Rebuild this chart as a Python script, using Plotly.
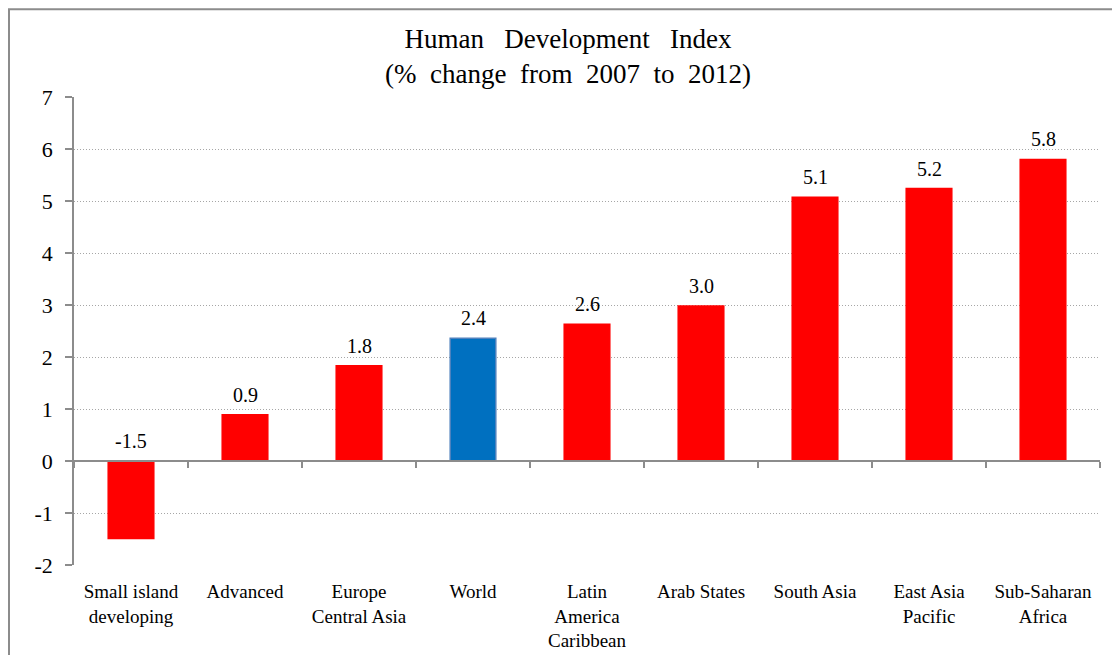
import plotly.graph_objects as go

categories = ["Small island<br>developing", "Advanced", "Europe<br>Central Asia", "World",
              "Latin<br>America<br>Caribbean", "Arab States", "South Asia", "East Asia<br>Pacific",
              "Sub-Saharan<br>Africa"]
values = [-1.49, 0.89, 1.83, 2.36, 2.63, 2.98, 5.07, 5.24, 5.80]
bar_colors = ["#FF0000", "#FF0000", "#FF0000", "#0070C0", "#FF0000", "#FF0000", "#FF0000", "#FF0000", "#FF0000"]
line_colors = ["#FF0000", "#FF0000", "#FF0000", "#4F81BD", "#FF0000", "#FF0000", "#FF0000", "#FF0000", "#FF0000"]
y_ticks = [-2, -1, 0, 1, 2, 3, 4, 5, 6, 7]
y_tick_text = ["-2", "-1", "0", "1", "2", "3", "4", "5", "6", "7"]

FONT = "Liberation Serif"
W, H = 1120, 655
OFF = 8  # browser body margin offset
ML, MR, MT, MB = 74 - OFF, 28, 97 - OFF, 96
y_min, y_max = -2, 7

fig = go.Figure()
fig.add_trace(go.Bar(
    x=categories, y=values,
    marker=dict(color=bar_colors, line=dict(color=line_colors, width=1.5)),
    width=0.4, showlegend=False, hoverinfo="skip",
))
label_y = [max(v, 0) for v in values]
fig.add_trace(go.Scatter(
    x=categories, y=label_y, xaxis="x2", mode="markers",
    marker=dict(opacity=0, size=1), showlegend=False, hoverinfo="skip",
))
for c, v, ly in zip(categories, values, label_y):
    fig.add_annotation(x=c, y=ly, xref="x", yref="y", text=f"{v:.1f}", showarrow=False,
                       yanchor="bottom", yshift=7,
                       font=dict(family=FONT, size=20, color="#000000"))

zero_pos = (0 - y_min) / (y_max - y_min)
axis_gray = "#8C8C8C"

fig.update_layout(
    width=W, height=H,
    margin=dict(l=ML, r=MR, t=MT, b=MB),
    paper_bgcolor="white", plot_bgcolor="white",
    font=dict(family=FONT, color="#000000"),
    title=dict(text="Human   Development   Index<br>(%  change  from  2007  to  2012)",
               x=0.5, xanchor="center", y=1 - 40 / H, yanchor="top",
               font=dict(family=FONT, size=27, color="#000000")),
    xaxis=dict(type="category", categoryarray=categories, range=[-0.5, len(categories) - 0.5],
               showline=False, ticks="", showgrid=False, zeroline=False,
               tickfont=dict(family=FONT, size=19, color="#000000"), ticklabelstandoff=13),
    xaxis2=dict(type="category", categoryarray=categories, range=[-0.5, len(categories) - 0.5],
                anchor="free", position=zero_pos, overlaying="x", side="bottom",
                showline=True, linecolor=axis_gray, linewidth=1.5,
                ticks="outside", tickson="boundaries", ticklen=6, tickcolor=axis_gray, tickwidth=1.5,
                showticklabels=False, showgrid=False, zeroline=False),
    yaxis=dict(range=[y_min, y_max], tickvals=y_ticks, ticktext=y_tick_text,
               showline=True, linecolor=axis_gray, linewidth=1.5,
               ticks="outside", ticklen=7, tickcolor=axis_gray, tickwidth=1.5,
               showgrid=True, gridcolor="#A6A6A6", griddash="1px,2px", gridwidth=1,
               zeroline=False, tickfont=dict(family=FONT, size=22, color="#000000"),
               ticklabelstandoff=8),
)

pw = W - ML - MR
ph = H - MT - MB
fig.add_shape(type="rect", xref="paper", yref="paper",
              x0=(1 - ML) / pw, x1=(W + 20 - ML) / pw,
              y0=-(MB + 20) / ph, y1=1 + (MT - 1) / ph,
              line=dict(color="#8C8C8C", width=2), fillcolor="rgba(0,0,0,0)", layer="below")

fig.write_html("out.html")
